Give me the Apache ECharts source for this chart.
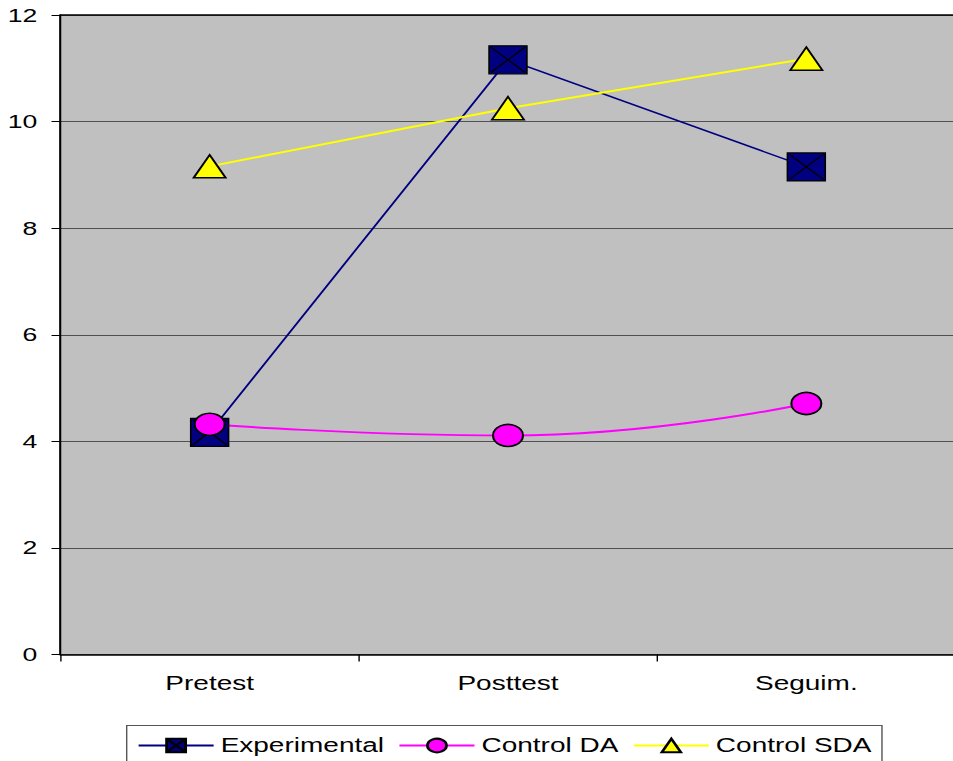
<!DOCTYPE html>
<html>
<head>
<meta charset="utf-8">
<script src="https://cdn.jsdelivr.net/npm/echarts@6/dist/echarts.min.js"></script>
<style>
html,body{margin:0;padding:0;background:#fff;overflow:hidden}
#wrap{width:953px;height:761px;overflow:hidden;position:relative;background:#fff}
#c{width:690px;height:761px;transform:scaleX(1.4);transform-origin:0 0}
</style>
</head>
<body>
<div id="wrap"><div id="c"></div></div>
<script>
const categories = ['Pretest', 'Posttest', 'Seguim.'];
const experimental = [4.17, 11.16, 9.15];
const controlDA = [4.32, 4.11, 4.71];
const controlSDA = [9.16, 10.25, 11.18];
const yTicks = [0, 2, 4, 6, 8, 10, 12];

const FONT = 'Liberation Sans';
const chart = echarts.init(document.getElementById('c'), null, {renderer: 'svg'});
chart.setOption({
  animation: false,
  backgroundColor: '#ffffff',
  grid: {
    left: 43.2, top: 15, right: 7.5, bottom: 106.5,
    containLabel: false, outerBoundsMode: 'none',
    show: true, backgroundColor: '#c0c0c0', borderWidth: 0
  },
  xAxis: [{
    type: 'category',
    data: categories,
    boundaryGap: true,
    axisLine: {lineStyle: {color: '#000', width: 1.5}},
    axisTick: {show: true, length: 7, lineStyle: {color: '#000', width: 1}},
    axisLabel: {color: '#000', fontFamily: FONT, fontSize: 20, margin: 19},
    splitLine: {show: false}
  }, {
    type: 'category',
    data: categories,
    position: 'top',
    boundaryGap: true,
    axisLine: {show: true, lineStyle: {color: '#000', width: 1.5}},
    axisTick: {show: false},
    axisLabel: {show: false},
    splitLine: {show: false}
  }],
  yAxis: {
    type: 'value',
    min: yTicks[0], max: yTicks[yTicks.length - 1], interval: 2,
    axisLine: {show: true, lineStyle: {color: '#000', width: 1.5}},
    axisTick: {show: true, length: 6.4, lineStyle: {color: '#000', width: 1}},
    axisLabel: {color: '#000', fontFamily: FONT, fontSize: 19, margin: 16.5},
    splitLine: {show: true, lineStyle: {color: '#505050', width: 1}}
  },
  legend: {
    left: 90.5, top: 725.5,
    padding: [10, 7.5, 12, 7.5],
    borderColor: '#555', borderWidth: 1,
    backgroundColor: '#fff',
    itemWidth: 53.6, itemHeight: 17, itemGap: 10,
    textStyle: {color: '#000', fontFamily: FONT, fontSize: 20},
    data: ['Experimental', 'Control DA', 'Control SDA']
  },
  series: [
    {
      name: 'Experimental', type: 'line', data: experimental,
      symbol: 'path://M0,0H38V28H0Z M2,1.5L36,26.5M36,1.5L2,26.5',
      symbolSize: [27, 28], symbolKeepAspect: false,
      lineStyle: {color: '#000080', width: 1.5},
      itemStyle: {color: '#000080', borderColor: '#000', borderWidth: 1.2}
    },
    {
      name: 'Control DA', type: 'line', data: controlDA, smooth: true,
      symbol: 'circle', symbolSize: [21.4, 22],
      lineStyle: {color: '#ff00ff', width: 2},
      itemStyle: {color: '#ff00ff', borderColor: '#000', borderWidth: 1.5}
    },
    {
      name: 'Control SDA', type: 'line', data: controlSDA,
      symbol: 'triangle', symbolSize: [22.9, 23],
      lineStyle: {color: '#ffff00', width: 2},
      itemStyle: {color: '#ffff00', borderColor: '#000', borderWidth: 1.5}
    }
  ]
});
</script>
</body>
</html>
